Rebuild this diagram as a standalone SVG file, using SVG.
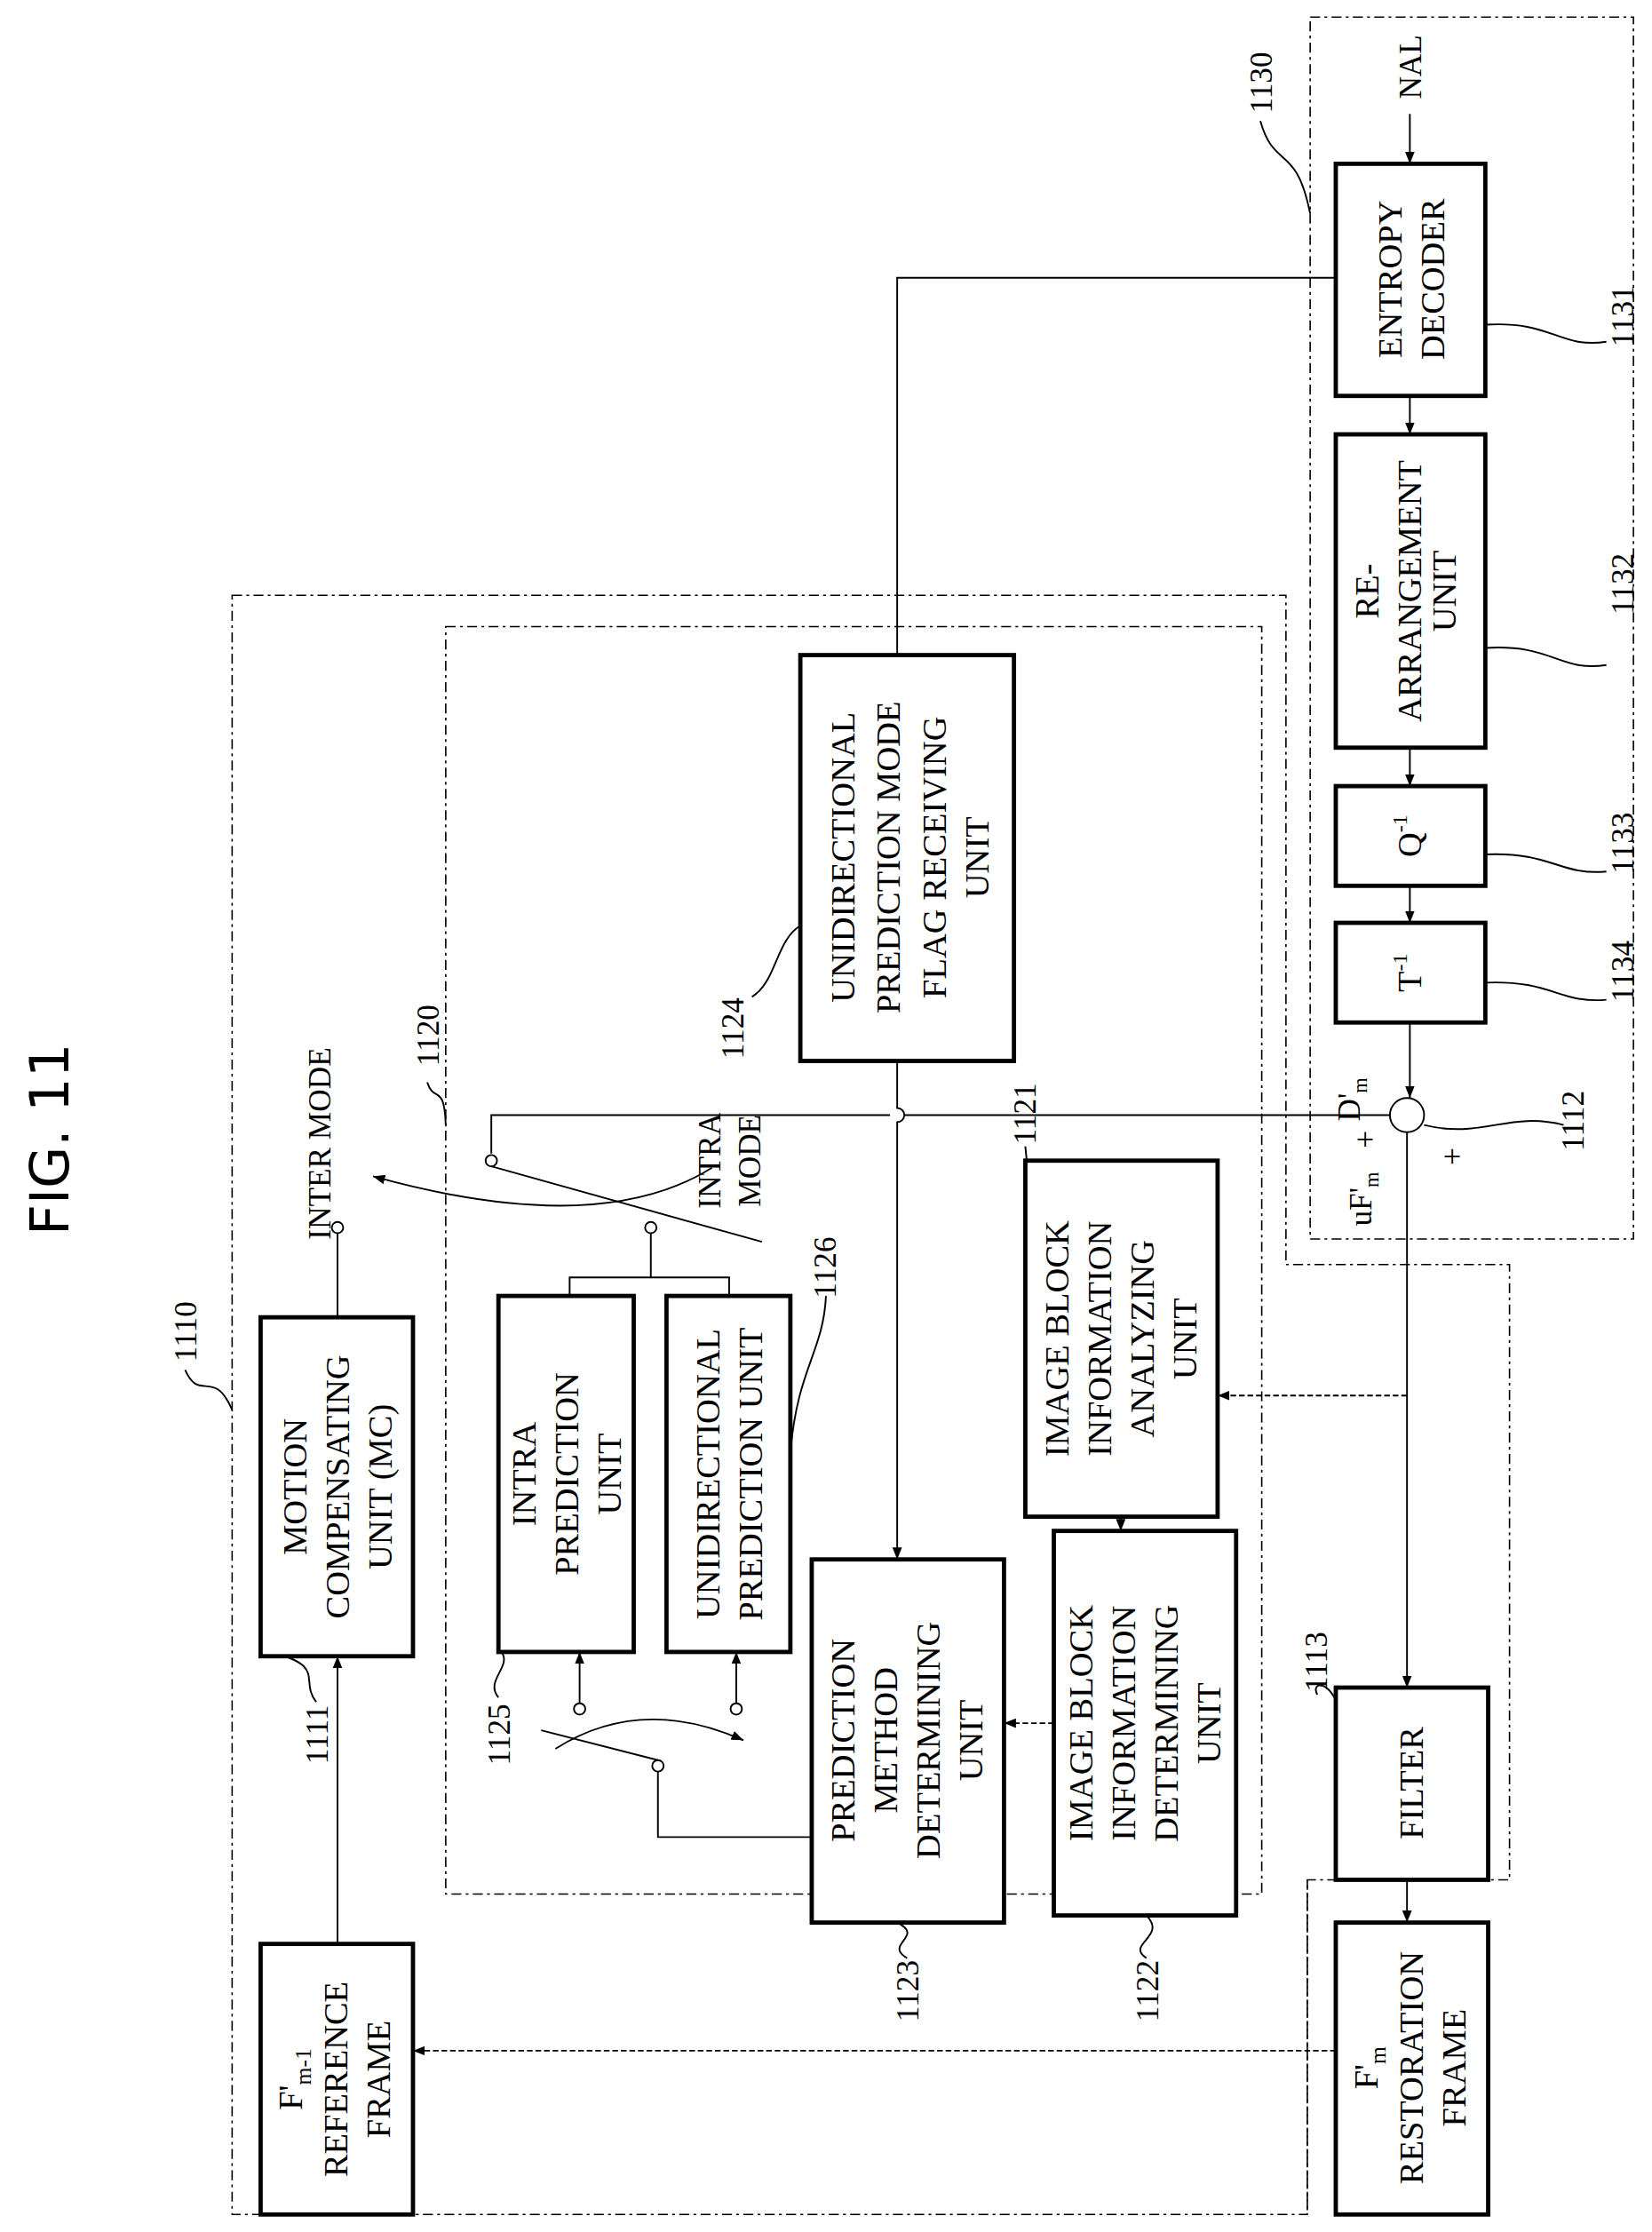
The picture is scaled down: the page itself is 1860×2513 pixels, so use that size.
<svg xmlns="http://www.w3.org/2000/svg" width="1860" height="2513" viewBox="0 0 1860 2513">
<defs>
<style>
.t{font-family:"Liberation Serif",serif;font-size:24px;fill:#000;text-anchor:middle}
.n{font-family:"Liberation Serif",serif;font-size:22px;fill:#000;text-anchor:middle}
.b{fill:#fff;stroke:#000;stroke-width:3}
.d{fill:none;stroke:#000;stroke-width:1;stroke-dasharray:7,3,2,3}
.l{fill:none;stroke:#000;stroke-width:1.2}
.ld{fill:none;stroke:#000;stroke-width:1.2;stroke-dasharray:4,2}
.c{fill:#fff;stroke:#000;stroke-width:1.2}
</style>
<marker id="a" viewBox="0 0 10 10" refX="10" refY="5" markerWidth="7" markerHeight="7" orient="auto"><path d="M0,1 L10,5 L0,9 z" fill="#000"/></marker>
</defs>
<rect width="1860" height="2513" fill="#fff"/>
<g transform="scale(1.6034)">
<text transform="translate(48,800) rotate(-90)" style="font-family:'DejaVu Sans',sans-serif;font-size:38px;text-anchor:middle">FIG. 11</text>
<g id="frames">
<path class="d" d="M163,418 H903 V888 H1060 V1320 H918 V1555 H163 Z"/>
<rect class="d" x="313" y="440" width="573" height="890"/>
<rect class="d" x="920" y="12" width="227" height="858"/>
<path class="d" d="M918,1320 V1555"/>
</g>
<g id="connectors">
<path class="l" d="M990,80 V115" marker-end="url(#a)"/>
<path class="l" d="M990,278 V305" marker-end="url(#a)"/>
<path class="l" d="M990,525 V552" marker-end="url(#a)"/>
<path class="l" d="M990,622 V648" marker-end="url(#a)"/>
<path class="l" d="M990,718 V771" marker-end="url(#a)"/>
<path class="l" d="M938,195 H630 V460"/>
<path class="l" d="M630,745 V778 A5,5 0 0 1 630,788 V1095" marker-end="url(#a)"/>
<path class="l" d="M976,783 H635 M625,783 H345 V810"/>
<path class="l" d="M345,819 L535,872"/>
<path class="l" d="M500,820 Q420,870 262,826" marker-end="url(#a)"/>
<path class="l" d="M237,925 V866"/>
<path class="l" d="M400,910 V897 H512 V910 M457,897 V866"/>
<path class="l" d="M988,795 V1185" marker-end="url(#a)"/>
<path class="ld" d="M988,980 H855" marker-end="url(#a)"/>
<path class="ld" d="M787,1065 V1075" marker-end="url(#a)"/>
<path class="ld" d="M740,1210 H705" marker-end="url(#a)"/>
<path class="l" d="M570,1290 H462 V1244"/>
<path class="l" d="M462,1236 L380,1215"/>
<path class="l" d="M390,1228 Q450,1190 522,1222" marker-end="url(#a)"/>
<path class="l" d="M407,1196 V1160" marker-end="url(#a)"/>
<path class="l" d="M517,1196 V1160" marker-end="url(#a)"/>
<path class="l" d="M988,1320 V1350" marker-end="url(#a)"/>
<path class="ld" d="M938,1440 H290" marker-end="url(#a)"/>
<path class="l" d="M237,1365 V1163" marker-end="url(#a)"/>
<circle class="c" cx="345" cy="815" r="4"/>
<circle class="c" cx="237" cy="862" r="4"/>
<circle class="c" cx="457" cy="862" r="4"/>
<circle class="c" cx="462" cy="1240" r="4"/>
<circle class="c" cx="407" cy="1200" r="4"/>
<circle class="c" cx="517" cy="1200" r="4"/>
<path class="l" d="M130,962 C140,985 150,960 163,990"/>
<path class="l" d="M300,760 C305,775 312,760 313,790"/>
<path class="l" d="M885,85 C895,120 910,100 920,150"/>
<path class="l" d="M1043,228 C1090,225 1095,245 1128,240"/>
<path class="l" d="M1043,455 C1090,452 1095,472 1128,467"/>
<path class="l" d="M1043,600 C1090,598 1095,615 1128,612"/>
<path class="l" d="M1043,690 C1090,688 1095,705 1128,702"/>
<path class="l" d="M1000,790 C1040,800 1060,780 1098,790"/>
<path class="l" d="M528,700 C545,690 545,660 562,650"/>
<path class="l" d="M720,805 C722,840 735,850 733,880"/>
<path class="l" d="M580,910 C578,950 560,960 555,1020"/>
<path class="l" d="M350,1192 C340,1180 360,1170 352,1160"/>
<path class="l" d="M222,1195 C210,1180 230,1170 190,1160"/>
<path class="l" d="M925,1190 C920,1180 935,1180 940,1200"/>
<path class="l" d="M637,1375 C620,1365 650,1360 630,1350"/>
<path class="l" d="M805,1375 C790,1365 820,1360 805,1345"/>
<circle class="c" cx="988" cy="783" r="12"/>
</g>
<g id="n1131"><rect class="b" x="938" y="115" width="105" height="163"/><text class="t" transform="translate(990,196) rotate(-90)"><tspan x="0" dy="-6">ENTROPY</tspan><tspan x="0" dy="30">DECODER</tspan></text></g>
<g id="n1132"><rect class="b" x="938" y="305" width="105" height="220"/><text class="t" transform="translate(990,415) rotate(-90)"><tspan x="0" dy="-22">RE-</tspan><tspan x="0" dy="30">ARRANGEMENT</tspan><tspan x="0" dy="24">UNIT</tspan></text></g>
<g id="n1133"><rect class="b" x="938" y="552" width="105" height="70"/><text class="t" transform="translate(998,587) rotate(-90)">Q<tspan dy="-10" font-size="15">-1</tspan></text></g>
<g id="n1134"><rect class="b" x="938" y="648" width="105" height="70"/><text class="t" transform="translate(998,683) rotate(-90)">T<tspan dy="-10" font-size="15">-1</tspan></text></g>
<g id="n1124"><rect class="b" x="562" y="460" width="150" height="285"/><text class="t" transform="translate(637,602) rotate(-90)"><tspan x="0" dy="-37">UNIDIRECTIONAL</tspan><tspan x="0" dy="32">PREDICTION MODE</tspan><tspan x="0" dy="32">FLAG RECEIVING</tspan><tspan x="0" dy="30">UNIT</tspan></text></g>
<g id="n1111"><rect class="b" x="183" y="925" width="107" height="238"/><text class="t" transform="translate(237,1044) rotate(-90)"><tspan x="0" dy="-22">MOTION</tspan><tspan x="0" dy="30">COMPENSATING</tspan><tspan x="0" dy="30">UNIT (MC)</tspan></text></g>
<g id="n1125"><rect class="b" x="350" y="910" width="95" height="250"/><text class="t" transform="translate(398,1035) rotate(-90)"><tspan x="0" dy="-22">INTRA</tspan><tspan x="0" dy="30">PREDICTION</tspan><tspan x="0" dy="30">UNIT</tspan></text></g>
<g id="n1126"><rect class="b" x="468" y="910" width="87" height="250"/><text class="t" transform="translate(512,1035) rotate(-90)"><tspan x="0" dy="-7">UNIDIRECTIONAL</tspan><tspan x="0" dy="30">PREDICTION UNIT</tspan></text></g>
<g id="n1123"><rect class="b" x="570" y="1095" width="135" height="255"/><text class="t" transform="translate(637,1222) rotate(-90)"><tspan x="0" dy="-37">PREDICTION</tspan><tspan x="0" dy="30">METHOD</tspan><tspan x="0" dy="30">DETERMINING</tspan><tspan x="0" dy="30">UNIT</tspan></text></g>
<g id="n1122"><rect class="b" x="740" y="1075" width="128" height="270"/><text class="t" transform="translate(804,1210) rotate(-90)"><tspan x="0" dy="-37">IMAGE BLOCK</tspan><tspan x="0" dy="30">INFORMATION</tspan><tspan x="0" dy="30">DETERMINING</tspan><tspan x="0" dy="30">UNIT</tspan></text></g>
<g id="n1121"><rect class="b" x="720" y="815" width="135" height="250"/><text class="t" transform="translate(787,940) rotate(-90)"><tspan x="0" dy="-37">IMAGE BLOCK</tspan><tspan x="0" dy="30">INFORMATION</tspan><tspan x="0" dy="30">ANALYZING</tspan><tspan x="0" dy="30">UNIT</tspan></text></g>
<g id="n1113"><rect class="b" x="938" y="1185" width="107" height="135"/><text class="t" transform="translate(999,1252) rotate(-90)">FILTER</text></g>
<g id="nrest"><rect class="b" x="938" y="1350" width="107" height="205"/><text class="t" transform="translate(991,1452) rotate(-90)"><tspan x="0" dy="-24">F'<tspan font-size="16" dy="6">m</tspan></tspan><tspan x="0" dy="26">RESTORATION</tspan><tspan x="0" dy="30">FRAME</tspan></text></g>
<g id="nref"><rect class="b" x="183" y="1365" width="107" height="190"/><text class="t" transform="translate(236,1460) rotate(-90)"><tspan x="0" dy="-24">F'<tspan font-size="16" dy="6">m-1</tspan></tspan><tspan x="0" dy="26">REFERENCE</tspan><tspan x="0" dy="30">FRAME</tspan></text></g>
<g id="labels">
<text class="n" transform="translate(998,47) rotate(-90)">NAL</text>
<text class="n" transform="translate(232,803) rotate(-90)">INTER MODE</text>
<text class="n" transform="translate(512,815) rotate(-90)"><tspan x="0" dy="-6">INTRA</tspan><tspan x="0" dy="28">MODE</tspan></text>
<text class="n" transform="translate(955,772) rotate(-90)">D'<tspan font-size="14" dy="5">m</tspan></text>
<text class="n" transform="translate(1027,812) rotate(-90)">+</text>
<text class="n" transform="translate(966,800) rotate(-90)">+</text>
<text class="n" transform="translate(963,842) rotate(-90)">uF'<tspan font-size="14" dy="5">m</tspan></text>
<text class="n" transform="translate(138,935) rotate(-90)">1110</text>
<text class="n" transform="translate(308,727) rotate(-90)">1120</text>
<text class="n" transform="translate(893,58) rotate(-90)">1130</text>
<text class="n" transform="translate(1147,222) rotate(-90)">1131</text>
<text class="n" transform="translate(1147,410) rotate(-90)">1132</text>
<text class="n" transform="translate(1147,592) rotate(-90)">1133</text>
<text class="n" transform="translate(1147,682) rotate(-90)">1134</text>
<text class="n" transform="translate(1112,787) rotate(-90)">1112</text>
<text class="n" transform="translate(522,722) rotate(-90)">1124</text>
<text class="n" transform="translate(727,782) rotate(-90)">1121</text>
<text class="n" transform="translate(587,890) rotate(-90)">1126</text>
<text class="n" transform="translate(358,1218) rotate(-90)">1125</text>
<text class="n" transform="translate(230,1218) rotate(-90)">1111</text>
<text class="n" transform="translate(932,1167) rotate(-90)">1113</text>
<text class="n" transform="translate(645,1398) rotate(-90)">1123</text>
<text class="n" transform="translate(813,1398) rotate(-90)">1122</text>
</g>
</g>
</svg>
